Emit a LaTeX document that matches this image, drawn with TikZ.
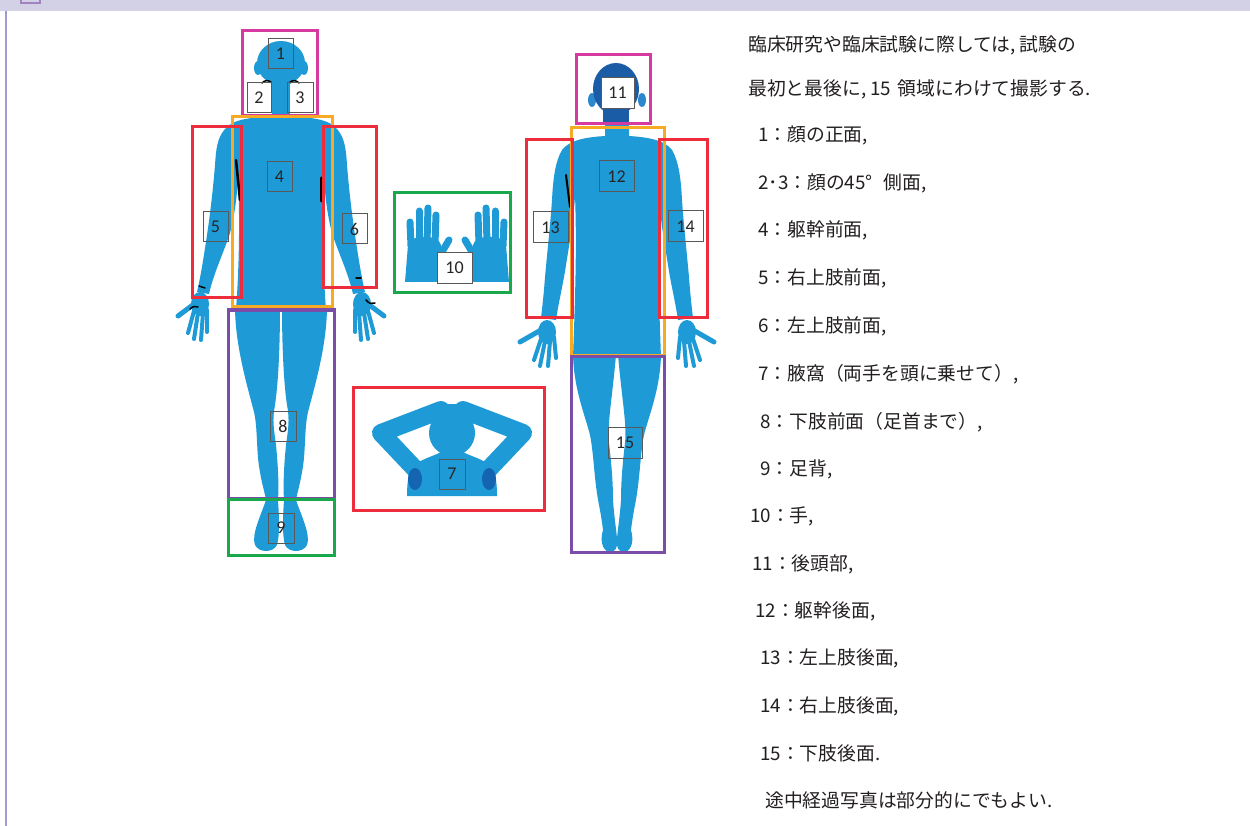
\documentclass[tikz,border=0pt]{standalone}
\usepackage{fontspec}
\newfontfamily\jpfont{Noto Sans CJK JP}
\newfontfamily\numfont{Carlito}
\definecolor{skin}{RGB}{30,155,215}
\definecolor{hair}{RGB}{26,92,166}
\definecolor{earblue}{RGB}{45,135,205}
\definecolor{pit}{RGB}{20,100,178}
\definecolor{bandbg}{RGB}{211,209,230}
\definecolor{bandline}{RGB}{160,155,208}
\definecolor{cmag}{RGB}{214,58,160}
\definecolor{corange}{RGB}{247,170,35}
\definecolor{cred}{RGB}{238,45,60}
\definecolor{cpurple}{RGB}{122,78,168}
\definecolor{cgreen}{RGB}{25,168,76}
\definecolor{ink}{RGB}{35,31,32}

\tikzset{
  zone/.style={draw=#1, line width=3pt},
  tag/.style={draw=black!65, line width=1pt, inner sep=0pt,
    font=\numfont\fontsize{18}{18}\selectfont, text=black!85},
  tagS/.style={tag, minimum width=25pt, minimum height=30pt},
  tagW/.style={tag, minimum width=34pt, minimum height=31pt},
  note/.style={anchor=west, inner sep=0pt, text=ink,
    font=\jpfont\fontsize{18.8}{22}\selectfont},
  finger/.style={skin, line width=4pt, line cap=round},
  mark/.style={black, line width=#1, line cap=round},
  mark/.default=2pt,
}

% left half of the front view (mirrored for the right half)
\newcommand\frontHalf{%
  \fill[skin] (281,117) -- (272,117)
    .. controls (256,117) and (234,118) .. (225,129)
    .. controls (217,138) and (216,150) .. (215,165)
    .. controls (213,190) and (210,215) .. (207,235)
    .. controls (204,255) and (201,275) .. (197,292)
    -- (209,294)
    .. controls (214,272) and (224,252) .. (230,233)
    .. controls (234,218) and (237,198) .. (238,178)
    .. controls (240,220) and (239,270) .. (236,310)
    -- (281,310) -- cycle;
  \fill[skin] (200,304) ellipse [x radius=9pt, y radius=12pt];
  \draw[finger, line width=5pt] (194,304) -- (178,316);
  \draw[finger] (194,311) -- (188,333);
  \draw[finger] (198,313) -- (194,339);
  \draw[finger] (203,313) -- (201,340);
  \draw[finger] (207,310) -- (207,332);
  \fill[skin] (235,306)
    .. controls (235,345) and (247,385) .. (254,412)
    .. controls (258,430) and (256,452) .. (260,472)
    .. controls (262,485) and (265,493) .. (266,500)
    .. controls (261,515) and (251,535) .. (255,545)
    .. controls (259,553) and (273,553) .. (277,545)
    .. controls (280,535) and (279,515) .. (278,500)
    .. controls (279,485) and (278,465) .. (276,445)
    .. controls (274,430) and (272,420) .. (275,405)
    .. controls (278,385) and (280,350) .. (280,306) -- cycle;
}

% left half of the back view
\newcommand\backHalf{%
  \fill[skin] (617,122) -- (605,122) -- (605,136)
    .. controls (590,137) and (570,139) .. (562,150)
    .. controls (555,162) and (553,180) .. (552,200)
    .. controls (550,230) and (546,262) .. (544,290)
    .. controls (543,300) and (542,310) .. (541,318)
    -- (556,320)
    .. controls (559,300) and (563,285) .. (566,265)
    .. controls (570,240) and (574,218) .. (575,195)
    .. controls (577,250) and (575,300) .. (573,358)
    -- (617,358) -- cycle;
  \fill[skin] (547,332) ellipse [x radius=9pt, y radius=12pt];
  \draw[finger, line width=5pt] (541,330) -- (520,342);
  \draw[finger] (541,339) -- (534,360);
  \draw[finger] (545,341) -- (540,366);
  \draw[finger] (550,341) -- (548,366);
  \draw[finger] (554,337) -- (556,358);
  \fill[skin] (573,355)
    .. controls (574,390) and (585,415) .. (590,435)
    .. controls (594,455) and (594,480) .. (599,505)
    .. controls (601,515) and (602,522) .. (603,530)
    .. controls (600,540) and (602,550) .. (609,552)
    .. controls (615,553) and (618,548) .. (617,538)
    .. controls (616,528) and (614,515) .. (613,500)
    .. controls (613,480) and (611,460) .. (609,443)
    .. controls (607,425) and (612,400) .. (616,355) -- cycle;
  \fill[earblue] (592,100) ellipse [x radius=4pt, y radius=7pt];
}

% one glove, palm facing, fingers up
\newcommand\glove{%
  \fill[skin] (405,282) -- (408,245)
    .. controls (409,234) and (439,234) .. (441,245)
    -- (443,262) -- (447,282) -- cycle;
  \draw[finger, line width=7pt] (411,246) -- (410,222);
  \draw[finger, line width=7pt] (419,242) -- (419,211);
  \draw[finger, line width=7pt] (427,242) -- (428,208);
  \draw[finger, line width=7pt] (435,244) -- (436,215);
  \draw[finger, line width=7pt] (439,257) -- (449,240);
}

% one arm of the hands-on-head pose
\newcommand\raisedArm{%
  \draw[skin, line width=18pt, line cap=round, line join=round]
    (416,470) -- (381,433) -- (441,410);
  \fill[pit] (415,479) ellipse [x radius=7pt, y radius=11pt];
}

\begin{document}
\begin{tikzpicture}[x=1pt, y=-1pt]
\useasboundingbox (0,0) rectangle (1250,826);
\fill[white] (0,0) rectangle (1250,826);

% header band and left rule
\fill[bandbg] (0,0) rectangle (1250,11);
\draw[bandline, line width=2pt] (6,11) -- (6,826);
\draw[cpurple!70, line width=1.5pt] (21,0) -- (21,3) -- (40,3) -- (40,0);

% ---- front view ----
\fill[skin] (281,63) ellipse [x radius=24pt, y radius=22pt];
\fill[skin] (281,71) ellipse [x radius=18pt, y radius=15pt];
\fill[skin] (258,68) ellipse [x radius=4pt, y radius=7pt];
\fill[skin] (304,68) ellipse [x radius=4pt, y radius=7pt];
\fill[skin] (272,80) rectangle (290,125);
\frontHalf
\begin{scope}[xshift=562pt, xscale=-1]
  \frontHalf
\end{scope}
% small dark marks
\draw[mark=1.5pt] (262,83) .. controls (265,80) and (268,80) .. (271,82);
\draw[mark=1.5pt] (290,82) .. controls (293,80) and (296,80) .. (299,83);
\draw[mark=2.5pt] (236,160) -- (240,200);
\draw[mark=3pt] (321,178) -- (321,201);
\draw[mark=1.5pt] (199,286) -- (205,288);
\draw[mark=1.5pt] (190,309) .. controls (193,306) and (196,306) .. (198,307);
\draw[mark=1.5pt] (356,278) -- (361,278);
\draw[mark=1.5pt] (366,300) .. controls (369,304) and (372,304) .. (375,303);

% ---- back view ----
\backHalf
\begin{scope}[xshift=1234pt, xscale=-1]
  \backHalf
\end{scope}
\fill[hair] (616,89) ellipse [x radius=23pt, y radius=26pt];
\fill[hair] (603,100) rectangle (629,124);
\draw[mark=2pt] (566,175) -- (570,207);

% ---- gloves ----
\glove
\begin{scope}[xshift=914pt, xscale=-1]
  \glove
\end{scope}

% ---- hands on head ----
\fill[skin] (407,496) .. controls (407,480) and (409,470) .. (414,465)
  .. controls (424,458) and (434,456) .. (441,452) -- (463,452)
  .. controls (470,456) and (480,458) .. (490,465)
  .. controls (495,470) and (497,480) .. (497,496) -- cycle;
\raisedArm
\begin{scope}[xshift=904pt, xscale=-1]
  \raisedArm
\end{scope}
\fill[skin] (452,433) circle [radius=23pt];
\fill[skin] (452,410) ellipse [x radius=15pt, y radius=6pt];

% ---- photographed regions ----
\draw[zone=cmag]    (242,31)  rectangle (317,116);
\draw[zone=corange] (232,117) rectangle (332,307);
\draw[zone=cred]    (192,127) rectangle (241,298);
\draw[zone=cred]    (323,127) rectangle (376,288);
\draw[zone=cpurple] (228,310) rectangle (334,498);
\draw[zone=cgreen]  (228,499) rectangle (334,555);
\draw[zone=cgreen]  (394,193) rectangle (510,293);
\draw[zone=cred]    (353,387) rectangle (544,510);
\draw[zone=cmag]    (576,55)  rectangle (650,124);
\draw[zone=corange] (571,128) rectangle (664,355);
\draw[zone=cred]    (526,140) rectangle (572,317);
\draw[zone=cred]    (659,140) rectangle (707,317);
\draw[zone=cpurple] (571,356) rectangle (664,552);

% ---- region numbers ----
\node[tagS] (n1)  at (280.5,54)  {1};
\node[tagS, minimum width=24pt] (n2) at (259,98) {2};
\node[tagS, minimum width=26pt] (n3) at (300,98) {3};
\node[tagS] (n4)  at (279.5,177) {4};
\node[tagS] (n5)  at (215.5,227) {5};
\node[tagS] (n6)  at (354.5,229) {6};
\node[tagS, minimum width=26pt] (n7) at (452,474) {7};
\node[tagS, minimum width=26pt] (n8) at (283,426.5) {8};
\node[tagS, minimum width=26pt] (n9) at (281,528) {9};
\node[tagW, fill=white, minimum width=35pt] (n10) at (454.5,268) {10};
\node[tagW, fill=white, minimum width=33pt] (n11) at (617.5,93) {11};
\node[tagW, minimum width=35pt] (n12) at (616.5,176.5) {12};
\node[tagW, minimum width=35pt] (n13) at (550.5,227.5) {13};
\node[tagW, minimum width=35pt] (n14) at (685.5,226.5) {14};
\node[tagW] (n15) at (625,442.5) {15};

% ---- explanation ----
\node[note] (l0)  at (748,45)  {臨床研究や臨床試験に際しては, 試験の};
\node[note] (l1)  at (748,89)  {最初と最後に, 15\hspace{0.35em}領域にわけて撮影する.};
\node[note] (l2)  at (758,135) {1：顔の正面,};
\node[note] (l3)  at (758,183) {2･3：顔の45°\hspace{0.6em}側面,};
\node[note] (l4)  at (758,230) {4：躯幹前面,};
\node[note] (l5)  at (758,278) {5：右上肢前面,};
\node[note] (l6)  at (758,326) {6：左上肢前面,};
\node[note] (l7)  at (758,374) {7：腋窩（両手を頭に乗せて）,};
\node[note] (l8)  at (760,422) {8：下肢前面（足首まで）,};
\node[note] (l9)  at (760,469) {9：足背,};
\node[note] (l10) at (750,516) {10：手,};
\node[note] (l11) at (752,564) {11：後頭部,};
\node[note] (l12) at (755,611) {12：躯幹後面,};
\node[note] (l13) at (760,658) {13：左上肢後面,};
\node[note] (l14) at (760,706) {14：右上肢後面,};
\node[note] (l15) at (760,753) {15：下肢後面.};
\node[note] (l16) at (765,800) {途中経過写真は部分的にでもよい.};
\end{tikzpicture}
\end{document}
